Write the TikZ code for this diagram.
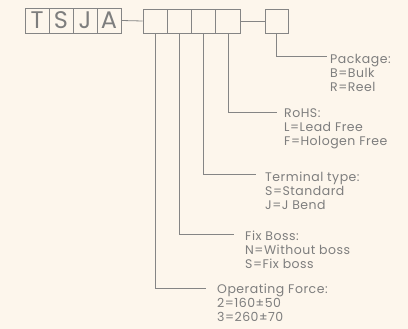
\documentclass[tikz,border=0pt]{standalone}
\usepackage{fontspec}
\setmainfont{Poppins}[LetterSpace=4]
\definecolor{bg}{HTML}{FDF6EC}
\definecolor{ln}{HTML}{858585}
\definecolor{tx}{HTML}{7E7E7E}
\begin{document}
\begin{tikzpicture}[x=1pt,y=-1pt,
  cell/.style={draw=ln,line width=0.8pt,minimum width=24pt,minimum height=25pt,inner sep=0pt,text=tx,font=\fontsize{24}{24}\selectfont},
  wire/.style={draw=ln,line width=0.8pt},
  lbl/.style={anchor=west,align=left,text=tx,inner sep=0pt,font=\fontsize{12.5}{14}\selectfont}]
\fill[bg] (0,0) rectangle (408,329);
\useasboundingbox (0,0) rectangle (408,329);
% TSJA
\node[cell] (t) at (37,20.5) {T};
\node[cell] (s) at (61,20.5) {S};
\node[cell] (j) at (85,20.5) {J};
\node[cell] (a) at (109,20.5) {A};
% option boxes
\node[cell,minimum width=24.25pt,minimum height=24pt] (o1) at (155.1,21) {};
\node[cell,minimum width=24.25pt,minimum height=24pt] (o2) at (179.4,21) {};
\node[cell,minimum width=24.25pt,minimum height=24pt] (o3) at (203.6,21) {};
\node[cell,minimum width=24.25pt,minimum height=24pt] (o4) at (227.9,21) {};
\node[cell,minimum width=23pt,minimum height=24pt] (p) at (276.5,21) {};
\draw[wire] (a.east) -- (o1.west);
\draw[wire] (o4.east) -- (p.west);
% labels
\node[lbl] (lp) at (330,73) {Package:\\B=Bulk\\R=Reel};
\node[lbl] (lr) at (284,129) {RoHS:\\L=Lead Free\\F=Hologen Free};
\node[lbl] (lt) at (265,191) {Terminal type:\\S=Standard\\J=J Bend};
\node[lbl] (lf) at (245,250) {Fix Boss:\\N=Without boss\\S=Fix boss};
\node[lbl] (lo) at (217,303) {Operating Force:\\2=160±50\\3=260±70};
\coordinate (cp) at (327,56);
\coordinate (cr) at (277,112);
\coordinate (ct) at (256,174);
\coordinate (cf) at (234,234);
\coordinate (co) at (206,288);
\draw[wire] (p.south) |- (cp);
\draw[wire] (o4.south) |- (cr);
\draw[wire] (o3.south) |- (ct);
\draw[wire] (o2.south) |- (cf);
\draw[wire] (o1.south) |- (co);
\end{tikzpicture}
\end{document}
